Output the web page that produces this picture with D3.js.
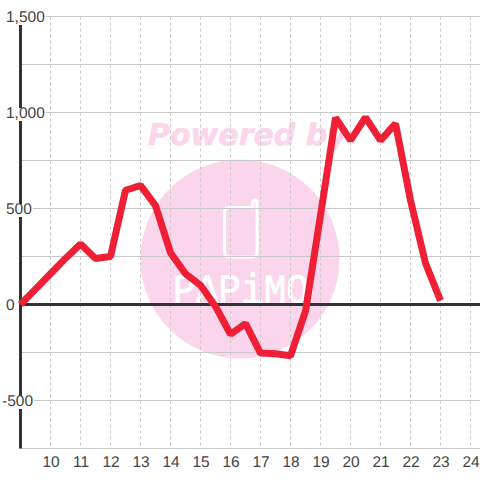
<!DOCTYPE html>
<html>
<head>
<meta charset="utf-8">
<script src="https://cdn.jsdelivr.net/npm/d3@7"></script>
<style>
  html, body { margin: 0; padding: 0; background: #fff; }
  svg { display: block; }
  text { font-family: "Liberation Sans", sans-serif; text-rendering: geometricPrecision; }
</style>
</head>
<body>
<div id="chart"></div>
<script>
// values, one point per half hour from 9:00
const hours = [9, 9.5, 10, 10.5, 11, 11.5, 12, 12.5, 13, 13.5, 14, 14.5, 15, 15.5, 16, 16.5,
    17, 17.5, 18, 18.5, 19, 19.5, 20, 20.5, 21, 21.5, 22, 22.5, 23];
const values = [0, 80, 160, 240, 315, 240, 250, 595, 620, 515, 270, 160, 100, -10, -155, -100,
    -253, -257, -267, -35, 465, 973, 855, 975, 855, 942, 543, 215, 20];
const xTicks = [10, 11, 12, 13, 14, 15, 16, 17, 18, 19, 20, 21, 22, 23, 24];
const yLabelTicks = [1500, 1000, 500, 0, -500];
const yLabels = ["1,500", "1,000", "500", "0", "-500"];
const yGridTicks = [1500, 1250, 1000, 750, 500, 250, -250, -500, -750];

const width = 480, height = 480;

const x = d3.scaleLinear().domain([9, 24]).range([20.5, 470.5]);
const y = d3.scaleLinear().domain([-750, 1500]).range([448.5, 16.5]);

const svg = d3.select("#chart").append("svg")
    .attr("width", width)
    .attr("height", height);

svg.append("rect")
    .attr("width", width)
    .attr("height", height)
    .attr("fill", "#fff");

// watermark
const mark = svg.append("g");
const pink = "#fbd5ec";
mark.append("circle").attr("cx", 240).attr("cy", 259).attr("r", 99.5).attr("fill", pink);
mark.append("text")
    .attr("x", 148).attr("y", 145)
    .style("font-family", "'DejaVu Sans'")
    .style("font-weight", "bold")
    .style("font-style", "italic")
    .style("font-size", "30px")
    .attr("fill", pink)
    .attr("stroke", pink)
    .attr("stroke-width", 0.6)
    .text("Powered by");
mark.append("path")
    .attr("d", "M229 207.5 H253 V202 Q253 200 255 200 Q257 200 257 202 V252 Q257 257 252 257 H229 Q224.5 257 224.5 252 V212 Q224.5 207.5 229 207.5")
    .attr("fill", "none")
    .attr("stroke", "#fff")
    .attr("stroke-width", 3);
mark.append("text")
    .attr("x", 173).attr("y", 303)
    .attr("textLength", 136)
    .attr("lengthAdjust", "spacingAndGlyphs")
    .style("font-family", "'Liberation Mono'")
    .style("font-size", "42px")
    .attr("fill", "#fff")
    .attr("stroke", "#fff")
    .attr("stroke-width", 0.7)
    .text("PAPiMO");

// grid
svg.append("g").selectAll("line")
    .data(yGridTicks)
    .enter().append("line")
    .attr("x1", x.range()[0]).attr("x2", width)
    .attr("y1", d => y(d)).attr("y2", d => y(d))
    .attr("stroke", "#c8c8c8");

svg.append("g").selectAll("line")
    .data(xTicks)
    .enter().append("line")
    .attr("x1", d => x(d)).attr("x2", d => x(d))
    .attr("y1", y(1500)).attr("y2", y(-750))
    .attr("stroke", "#c8c8c8")
    .attr("stroke-dasharray", "3,3");

// y axis line and zero line
svg.append("line")
    .attr("x1", x(9)).attr("x2", x(9))
    .attr("y1", y(1500)).attr("y2", y(-750))
    .attr("stroke", "#333").attr("stroke-width", 3);
svg.append("line")
    .attr("x1", x(9)).attr("x2", width)
    .attr("y1", y(0)).attr("y2", y(0))
    .attr("stroke", "#333").attr("stroke-width", 3);

// x tick labels
const xAxis = d3.axisBottom(x).tickValues(xTicks).tickSize(0).tickPadding(0);
const xg = svg.append("g").call(xAxis);
xg.select(".domain").remove();
xg.selectAll("text")
    .attr("y", 466.5).attr("dy", null)
    .style("font-family", "'Liberation Sans'")
    .style("font-size", "15.5px")
    .attr("fill", "#444");

// y tick labels, each one has a white box behind it
const yAxis = d3.axisLeft(y).tickValues(yLabelTicks)
    .tickFormat(d => yLabels[yLabelTicks.indexOf(d)])
    .tickSize(0);
const yg = svg.append("g").call(yAxis);
yg.select(".domain").remove();
yg.selectAll("text")
    .attr("x", d => d < 0 ? 2 : 6)
    .attr("dy", null)
    .attr("y", 5)
    .attr("text-anchor", "start")
    .style("font-family", "'Liberation Sans'")
    .style("font-size", "15.5px")
    .attr("fill", "#444");
yg.selectAll(".tick").each(function (d) {
    const t = d3.select(this).select("text");
    const w = t.node().getComputedTextLength();
    if (d !== 0) {
        d3.select(this).insert("rect", "text")
            .attr("x", +t.attr("x"))
            .attr("y", -5)
            .attr("width", w + 1)
            .attr("height", 13)
            .attr("fill", "#fff");
    }
});

// red line
const line = d3.line().x((d, i) => x(hours[i])).y(d => y(d));
svg.append("path")
    .datum(values)
    .attr("d", line)
    .attr("fill", "none")
    .attr("stroke", "#ef1f36")
    .attr("stroke-width", 7)
    .attr("stroke-linejoin", "bevel");
</script>
</body>
</html>
